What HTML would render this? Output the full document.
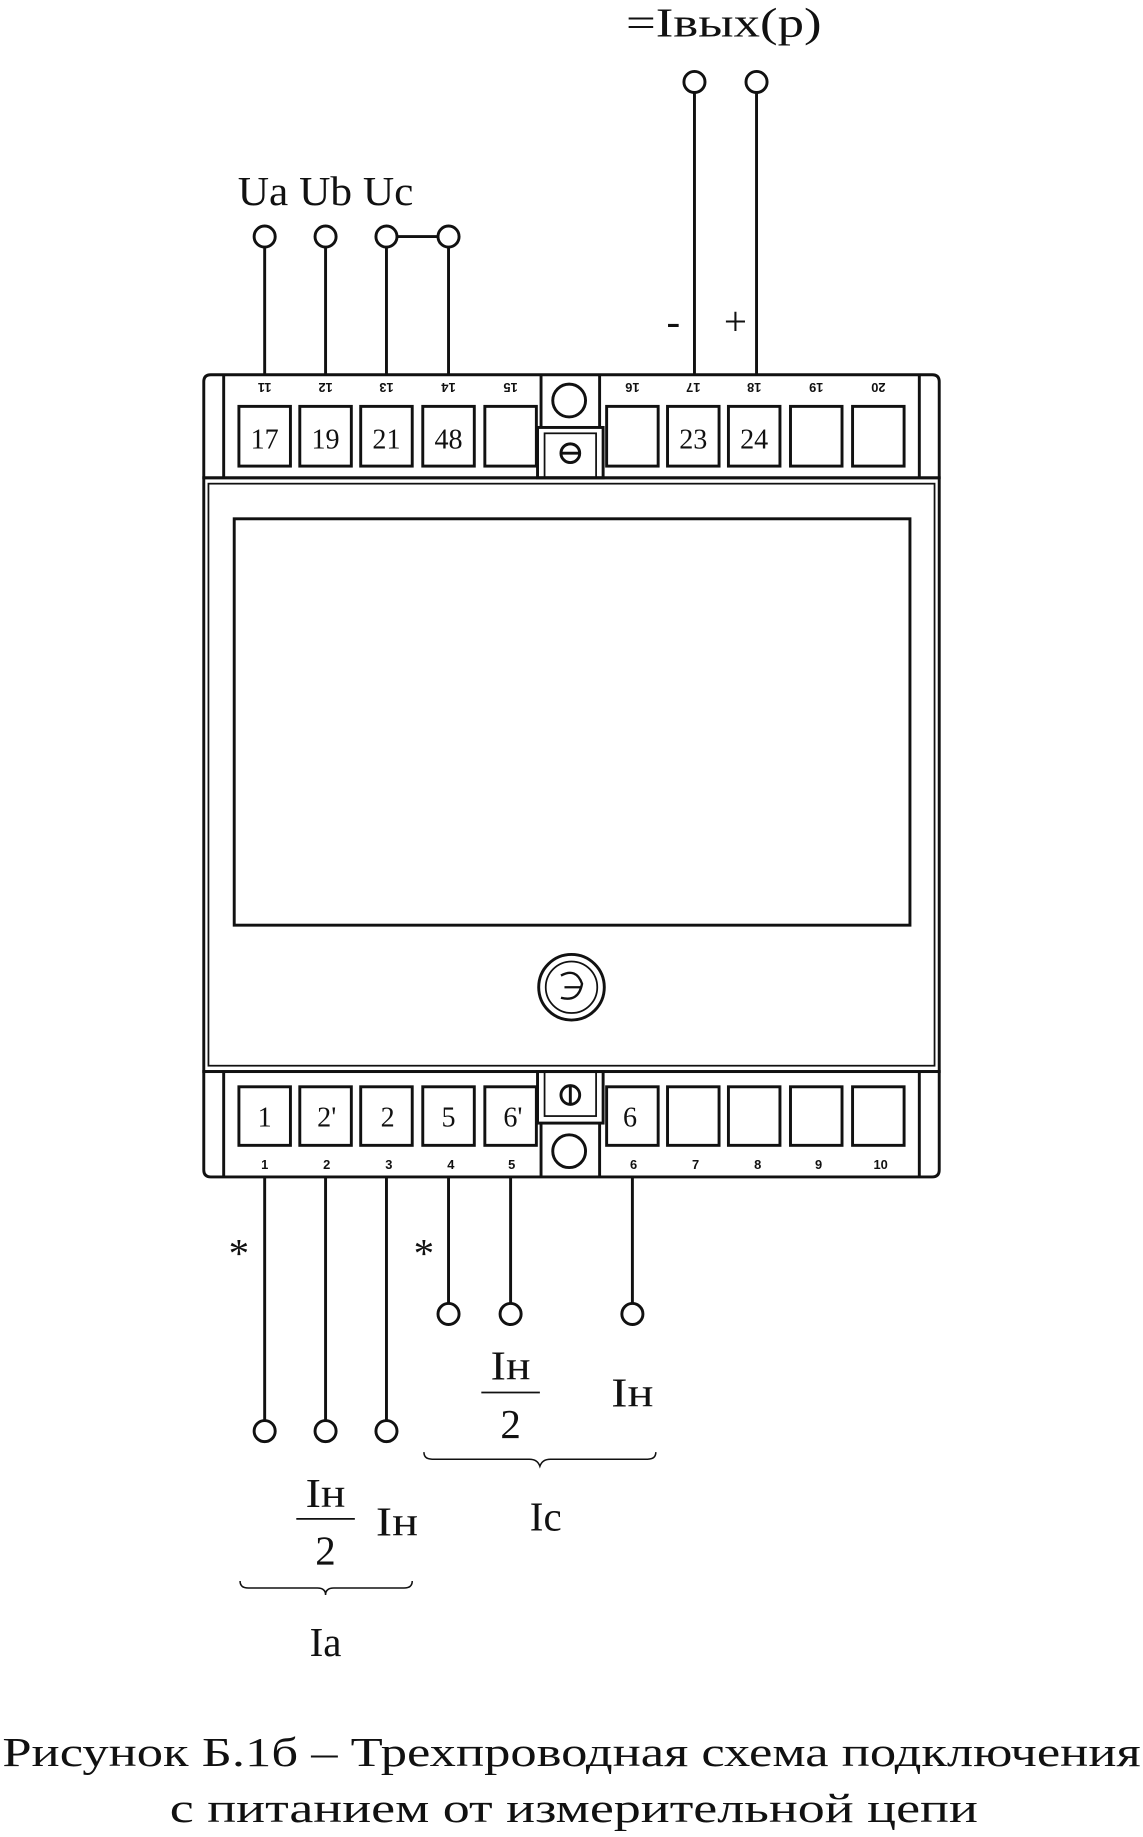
<!DOCTYPE html>
<html><head><meta charset="utf-8"><style>
html,body{margin:0;padding:0;background:#fff;width:1143px;height:1837px;overflow:hidden}
svg{display:block}
text{font-family:"Liberation Serif","DejaVu Serif",serif;fill:#111}
.b{font-family:"Liberation Sans",sans-serif;font-weight:bold;font-size:11px}
</style></head><body>
<svg width="1143" height="1837" viewBox="0 0 976 1568.6" xmlns="http://www.w3.org/2000/svg">
<g stroke="#111" fill="none" stroke-width="2.5">
<path d="M180 320 H796 Q802 320 802 326 V408 H174 V326 Q174 320 180 320Z"/>
<line x1="191" y1="320" x2="191" y2="408"/><line x1="785" y1="320" x2="785" y2="408"/>
<rect x="174" y="408" width="628" height="507"/>
<rect x="178" y="413" width="620" height="497" stroke-width="1.5"/>
<rect x="200" y="443" width="577" height="347"/>
<path d="M174 915 H802 V999 Q802 1005 796 1005 H180 Q174 1005 174 999Z"/>
<line x1="191" y1="915" x2="191" y2="1005"/><line x1="785" y1="915" x2="785" y2="1005"/>
<line x1="462" y1="320" x2="462" y2="365"/><line x1="512" y1="320" x2="512" y2="365"/>
<circle cx="486" cy="342" r="14"/>
<rect x="459" y="365" width="56" height="43"/><rect x="465" y="370" width="44" height="38" stroke-width="1.5"/>
<circle cx="487" cy="387" r="8"/><line x1="479" y1="387" x2="495" y2="387"/>
<rect x="459" y="915" width="56" height="44"/><rect x="465" y="915" width="44" height="38" stroke-width="1.5"/>
<circle cx="487" cy="935" r="8"/><line x1="487" y1="927" x2="487" y2="943"/>
<line x1="462" y1="959" x2="462" y2="1005"/><line x1="512" y1="959" x2="512" y2="1005"/>
<circle cx="486" cy="983" r="14"/>
<circle cx="488" cy="843" r="28"/><circle cx="488" cy="843" r="22" stroke-width="1.5"/>
<path d="M479 833 Q492 826 497 840 Q494 856 479 852 M482 843 H496" stroke-width="2"/>
</g>
<g stroke="#111" fill="none" stroke-width="2.5">
<rect x="204" y="347" width="44" height="51"/><rect x="256" y="347" width="44" height="51"/>
<rect x="308" y="347" width="44" height="51"/><rect x="361" y="347" width="44" height="51"/>
<rect x="414" y="347" width="44" height="51"/>
<rect x="518" y="347" width="44" height="51"/><rect x="570" y="347" width="44" height="51"/>
<rect x="622" y="347" width="44" height="51"/><rect x="675" y="347" width="44" height="51"/>
<rect x="728" y="347" width="44" height="51"/>
<rect x="204" y="928" width="44" height="50"/><rect x="256" y="928" width="44" height="50"/>
<rect x="308" y="928" width="44" height="50"/><rect x="361" y="928" width="44" height="50"/>
<rect x="414" y="928" width="44" height="50"/>
<rect x="518" y="928" width="44" height="50"/><rect x="570" y="928" width="44" height="50"/>
<rect x="622" y="928" width="44" height="50"/><rect x="675" y="928" width="44" height="50"/>
<rect x="728" y="928" width="44" height="50"/>
<line x1="226" y1="211" x2="226" y2="320"/><line x1="278" y1="211" x2="278" y2="320"/>
<line x1="330" y1="211" x2="330" y2="320"/><line x1="383" y1="211" x2="383" y2="320"/>
<line x1="339" y1="202" x2="374" y2="202"/>
<circle cx="226" cy="202" r="9"/><circle cx="278" cy="202" r="9"/><circle cx="330" cy="202" r="9"/><circle cx="383" cy="202" r="9"/>
<line x1="593" y1="79" x2="593" y2="320"/><line x1="646" y1="79" x2="646" y2="320"/>
<circle cx="593" cy="70" r="9"/><circle cx="646" cy="70" r="9"/>
<line x1="226" y1="1005" x2="226" y2="1213"/><line x1="278" y1="1005" x2="278" y2="1213"/><line x1="330" y1="1005" x2="330" y2="1213"/>
<circle cx="226" cy="1222" r="9"/><circle cx="278" cy="1222" r="9"/><circle cx="330" cy="1222" r="9"/>
<line x1="383" y1="1005" x2="383" y2="1113"/><line x1="436" y1="1005" x2="436" y2="1113"/><line x1="540" y1="1005" x2="540" y2="1113"/>
<circle cx="383" cy="1122" r="9"/><circle cx="436" cy="1122" r="9"/><circle cx="540" cy="1122" r="9"/>
<line x1="253" y1="1297" x2="303" y2="1297" stroke-width="1.5"/>
<line x1="411" y1="1189" x2="461" y2="1189" stroke-width="1.5"/>
<path d="M205 1350 Q205 1356 212 1356 H271 Q278 1356 278 1362 Q278 1356 285 1356 H345 Q352 1356 352 1350" stroke-width="1.3"/>
<path d="M362 1240 Q362 1246 369 1246 H452 Q459 1246 461 1252 Q463 1246 470 1246 H553 Q560 1246 560 1240" stroke-width="1.3"/>
</g>
<g class="b" text-anchor="middle">
<text class="b" x="226" y="335" transform="rotate(180 226 331)">11</text>
<text class="b" x="278" y="335" transform="rotate(180 278 331)">12</text>
<text class="b" x="330" y="335" transform="rotate(180 330 331)">13</text>
<text class="b" x="383" y="335" transform="rotate(180 383 331)">14</text>
<text class="b" x="436" y="335" transform="rotate(180 436 331)">15</text>
<text class="b" x="540" y="335" transform="rotate(180 540 331)">16</text>
<text class="b" x="592" y="335" transform="rotate(180 592 331)">17</text>
<text class="b" x="644" y="335" transform="rotate(180 644 331)">18</text>
<text class="b" x="697" y="335" transform="rotate(180 697 331)">19</text>
<text class="b" x="750" y="335" transform="rotate(180 750 331)">20</text>
<text class="b" x="226" y="998">1</text><text class="b" x="279" y="998">2</text><text class="b" x="332" y="998">3</text>
<text class="b" x="385" y="998">4</text><text class="b" x="437" y="998">5</text><text class="b" x="541" y="998">6</text>
<text class="b" x="594" y="998">7</text><text class="b" x="647" y="998">8</text><text class="b" x="699" y="998">9</text><text class="b" x="752" y="998">10</text>
</g>
<g font-size="24" text-anchor="middle">
<text x="226" y="383">17</text><text x="278" y="383">19</text><text x="330" y="383">21</text><text x="383" y="383">48</text>
<text x="592" y="383">23</text><text x="644" y="383">24</text>
<text x="226" y="962">1</text><text x="279" y="962">2'</text><text x="331" y="962">2</text><text x="383" y="962">5</text><text x="438" y="962">6'</text><text x="538" y="962">6</text>
</g>
<g font-size="35" text-anchor="middle">
<text x="278" y="175" textLength="150" lengthAdjust="spacingAndGlyphs">Ua Ub Uc</text>
<text x="618" y="31" textLength="167" lengthAdjust="spacingAndGlyphs">=Iвых(р)</text>
<text x="575" y="286">-</text><text x="628" y="286">+</text>
<text x="204" y="1082">*</text><text x="362" y="1082">*</text>
<text x="278" y="1287" textLength="34" lengthAdjust="spacingAndGlyphs">Iн</text><text x="278" y="1336">2</text><text x="339" y="1311" textLength="36" lengthAdjust="spacingAndGlyphs">Iн</text>
<text x="278" y="1414">Ia</text>
<text x="436" y="1178" textLength="34" lengthAdjust="spacingAndGlyphs">Iн</text><text x="436" y="1228">2</text><text x="540" y="1201" textLength="36" lengthAdjust="spacingAndGlyphs">Iн</text>
<text x="466" y="1307">Ic</text>
<text x="488" y="1508" textLength="972" lengthAdjust="spacingAndGlyphs">Рисунок Б.1б – Трехпроводная схема подключения</text>
<text x="490" y="1556" textLength="690" lengthAdjust="spacingAndGlyphs">с питанием от измерительной цепи</text>
</g>
</svg>
</body></html>
